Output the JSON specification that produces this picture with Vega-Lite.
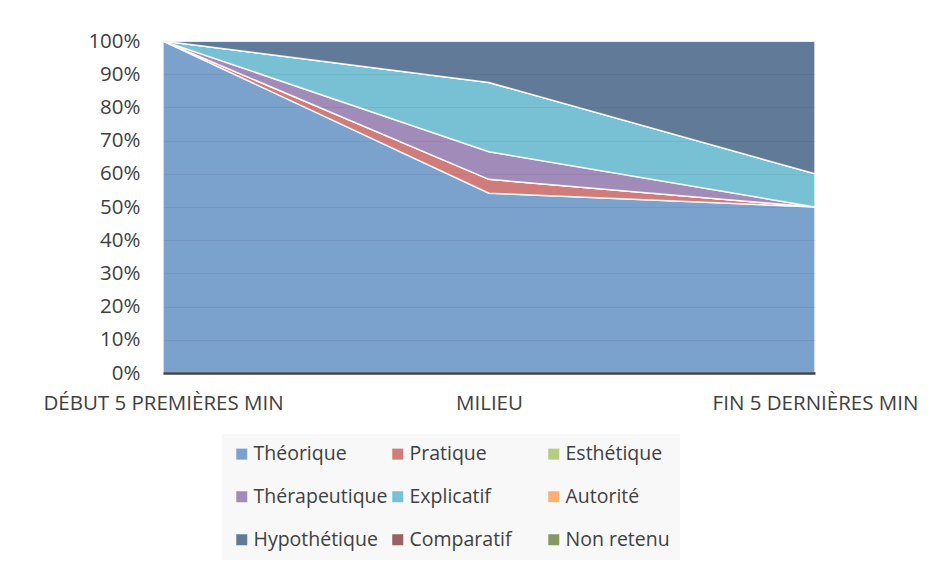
{
  "$schema": "https://vega.github.io/schema/vega-lite/v6.json",
  "width": 652,
  "height": 332,
  "autosize": {"type": "none"},
  "padding": {"left": 163, "top": 41, "right": 123, "bottom": 201},
  "background": "#ffffff",
  "config": {
    "view": {"stroke": null},
    "font": "Open Sans",
    "axis": {"labelFont": "Open Sans", "labelColor": "#404040", "labelFontSize": 20.5, "title": null, "ticks": false},
    "legend": {"labelFont": "Open Sans", "labelColor": "#404040", "labelFontSize": 19.5}
  },
  "data": {
    "values": [
      {"moment": "DÉBUT 5 PREMIÈRES MIN", "type": "Théorique", "rang": 1, "valeur": 100},
      {"moment": "DÉBUT 5 PREMIÈRES MIN", "type": "Pratique", "rang": 2, "valeur": 0},
      {"moment": "DÉBUT 5 PREMIÈRES MIN", "type": "Esthétique", "rang": 3, "valeur": 0},
      {"moment": "DÉBUT 5 PREMIÈRES MIN", "type": "Thérapeutique", "rang": 4, "valeur": 0},
      {"moment": "DÉBUT 5 PREMIÈRES MIN", "type": "Explicatif", "rang": 5, "valeur": 0},
      {"moment": "DÉBUT 5 PREMIÈRES MIN", "type": "Autorité", "rang": 6, "valeur": 0},
      {"moment": "DÉBUT 5 PREMIÈRES MIN", "type": "Hypothétique", "rang": 7, "valeur": 0},
      {"moment": "DÉBUT 5 PREMIÈRES MIN", "type": "Comparatif", "rang": 8, "valeur": 0},
      {"moment": "DÉBUT 5 PREMIÈRES MIN", "type": "Non retenu", "rang": 9, "valeur": 0},
      {"moment": "MILIEU", "type": "Théorique", "rang": 1, "valeur": 13},
      {"moment": "MILIEU", "type": "Pratique", "rang": 2, "valeur": 1},
      {"moment": "MILIEU", "type": "Esthétique", "rang": 3, "valeur": 0},
      {"moment": "MILIEU", "type": "Thérapeutique", "rang": 4, "valeur": 2},
      {"moment": "MILIEU", "type": "Explicatif", "rang": 5, "valeur": 5},
      {"moment": "MILIEU", "type": "Autorité", "rang": 6, "valeur": 0},
      {"moment": "MILIEU", "type": "Hypothétique", "rang": 7, "valeur": 3},
      {"moment": "MILIEU", "type": "Comparatif", "rang": 8, "valeur": 0},
      {"moment": "MILIEU", "type": "Non retenu", "rang": 9, "valeur": 0},
      {"moment": "FIN 5 DERNIÈRES MIN", "type": "Théorique", "rang": 1, "valeur": 5},
      {"moment": "FIN 5 DERNIÈRES MIN", "type": "Pratique", "rang": 2, "valeur": 0},
      {"moment": "FIN 5 DERNIÈRES MIN", "type": "Esthétique", "rang": 3, "valeur": 0},
      {"moment": "FIN 5 DERNIÈRES MIN", "type": "Thérapeutique", "rang": 4, "valeur": 0},
      {"moment": "FIN 5 DERNIÈRES MIN", "type": "Explicatif", "rang": 5, "valeur": 1},
      {"moment": "FIN 5 DERNIÈRES MIN", "type": "Autorité", "rang": 6, "valeur": 0},
      {"moment": "FIN 5 DERNIÈRES MIN", "type": "Hypothétique", "rang": 7, "valeur": 4},
      {"moment": "FIN 5 DERNIÈRES MIN", "type": "Comparatif", "rang": 8, "valeur": 0},
      {"moment": "FIN 5 DERNIÈRES MIN", "type": "Non retenu", "rang": 9, "valeur": 0}
    ]
  },
  "mark": {"type": "area", "stroke": "#ffffff", "strokeWidth": 1.5, "strokeOpacity": 0.85, "opacity": 1},
  "encoding": {
    "x": {
      "field": "moment",
      "type": "ordinal",
      "sort": ["DÉBUT 5 PREMIÈRES MIN", "MILIEU", "FIN 5 DERNIÈRES MIN"],
      "scale": {"type": "point", "padding": 0},
      "axis": {"labelAngle": 0, "labelPadding": 20, "labelFlush": false, "labelOverlap": false, "labelLimit": 400, "domainColor": "#404040", "domainWidth": 2.5, "grid": false, "zindex": 1}
    },
    "y": {
      "field": "valeur",
      "type": "quantitative",
      "stack": "normalize",
      "scale": {"domain": [0, 1], "nice": false},
      "axis": {"format": ".0%", "values": [0, 0.1, 0.2, 0.3, 0.4, 0.5, 0.6, 0.7, 0.8, 0.9, 1], "labelPadding": 23, "domain": false, "grid": true, "gridColor": "#000000", "gridOpacity": 0.05, "zindex": 1}
    },
    "color": {
      "field": "type",
      "type": "nominal",
      "scale": {
        "domain": ["Théorique", "Pratique", "Esthétique", "Thérapeutique", "Explicatif", "Autorité", "Hypothétique", "Comparatif", "Non retenu"],
        "range": ["#7ba1cd", "#d07c7a", "#b4cc83", "#a08bb9", "#78c1d4", "#f9b074", "#617a98", "#99615f", "#879864"]
      },
      "legend": {
        "title": null,
        "orient": "none",
        "legendX": 59,
        "legendY": 393,
        "direction": "horizontal",
        "columns": 3,
        "gridAlign": "all",
        "fillColor": "#f8f8f8",
        "padding": 10,
        "columnPadding": 0,
        "rowPadding": 22,
        "symbolType": "square",
        "symbolSize": 121,
        "symbolStrokeWidth": 0,
        "symbolOpacity": 1,
        "labelOffset": 2,
        "labelLimit": 300
      }
    },
    "order": {"field": "rang", "type": "quantitative", "sort": "ascending"}
  }
}
